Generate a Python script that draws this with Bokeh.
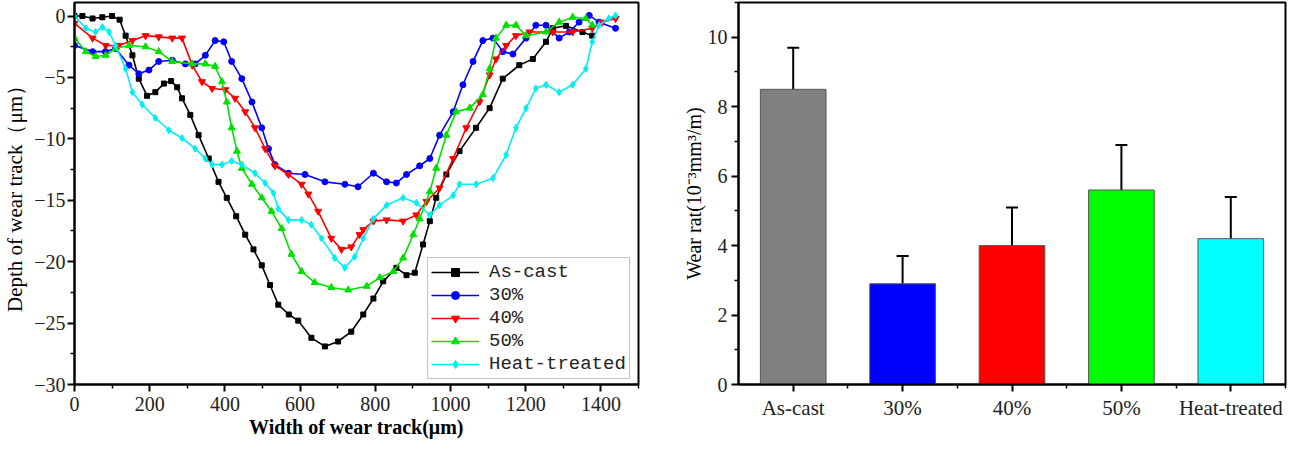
from bokeh.plotting import figure
from bokeh.layouts import row
from bokeh.models import (FixedTicker, CustomJSTickFormatter, Whisker, TeeHead,
                          ColumnDataSource, Label, Legend)
from bokeh.embed import file_html
from bokeh.resources import INLINE

# ---------------- data: (a) wear-track profiles ----------------
as_cast_x = [0, 21, 48, 74, 100, 120, 136, 154, 171, 193, 215, 238, 257, 273, 286, 308, 330, 357,
             383, 405, 430, 454, 476, 498, 520, 542, 570, 595, 630, 666, 701, 736, 768, 795, 821,
             856, 883, 905, 927, 945, 962, 989, 1024, 1068, 1104, 1139, 1183, 1219, 1254, 1272,
             1307, 1351, 1377]
as_cast_y = [0.0, 0.0, -0.2, -0.1, 0.0, -0.3, -1.6, -3.2, -5.1, -6.5, -6.2, -5.5, -5.3, -5.8, -6.7,
             -8.05, -9.7, -11.6, -13.5, -14.8, -16.3, -17.8, -19.0, -20.3, -21.9, -23.5, -24.3,
             -24.8, -26.2, -26.9, -26.5, -25.7, -24.3, -23.0, -21.6, -20.5, -21.1, -20.9, -18.6,
             -16.7, -14.8, -12.9, -11.0, -9.1, -7.5, -5.1, -4.0, -3.5, -2.1, -1.0, -0.8, -1.3, -1.6]

p30_x = [0, 48, 82, 109, 145, 171, 198, 224, 260, 295, 321, 348, 374, 397, 418, 445, 472, 498, 516,
         533, 569, 613, 666, 719, 754, 795, 830, 856, 883, 918, 945, 971, 1007, 1033, 1060, 1086,
         1113, 1139, 1166, 1201, 1227, 1254, 1289, 1316, 1342, 1369, 1395, 1439]
p30_y = [-2.4, -2.9, -2.9, -2.65, -4.0, -4.7, -4.4, -3.7, -3.6, -3.9, -3.9, -3.2, -2.0, -2.1, -3.7,
         -5.1, -7.0, -9.1, -10.8, -12.1, -12.8, -12.9, -13.5, -13.7, -13.9, -12.8, -13.5, -13.6,
         -12.9, -12.2, -11.6, -9.7, -7.8, -5.6, -3.7, -2.0, -1.8, -2.9, -3.1, -1.8, -0.75, -0.75,
         -1.8, -1.3, -0.5, 0.05, -0.5, -1.0]

p40_x = [0, 48, 83, 118, 154, 189, 224, 260, 286, 313, 339, 366, 401, 427, 454, 480, 507, 533, 569,
         604, 622, 648, 683, 710, 736, 758, 768, 795, 830, 874, 909, 936, 971, 1007, 1042, 1077,
         1104, 1121, 1148, 1174, 1210, 1272, 1325, 1377, 1404, 1439]
p40_y = [-0.6, -1.8, -2.4, -2.4, -2.0, -1.6, -1.7, -1.8, -1.8, -4.0, -5.35, -5.9, -6.0, -6.7, -7.8,
         -9.1, -10.8, -12.2, -12.9, -13.7, -14.5, -15.9, -18.1, -19.0, -18.8, -17.8, -17.4, -16.7,
         -16.6, -16.7, -16.2, -15.1, -14.0, -11.6, -9.1, -7.0, -4.8, -3.5, -2.4, -1.6, -1.3, -1.3,
         -1.3, -1.0, -0.5, -0.2]

p50_x = [0, 30, 56, 83, 109, 145, 189, 224, 260, 313, 348, 374, 392, 405, 418, 432, 445, 472, 498,
         524, 551, 577, 604, 639, 683, 728, 777, 812, 848, 874, 901, 918, 945, 962, 989, 1015, 1051,
         1086, 1104, 1121, 1148, 1174, 1201, 1254, 1289, 1325, 1360, 1377]
p50_y = [-1.8, -2.9, -3.3, -3.2, -2.65, -2.4, -2.5, -2.9, -3.7, -3.9, -3.9, -4.1, -5.35, -7.0, -9.1,
         -11.0, -12.4, -13.7, -14.8, -15.9, -17.3, -19.4, -20.8, -21.7, -22.1, -22.3, -22.0, -21.3,
         -20.8, -19.7, -17.8, -16.5, -14.3, -12.4, -9.7, -7.8, -7.5, -6.4, -4.3, -1.8, -0.75, -0.75,
         -1.6, -1.3, -0.5, -0.1, -0.2, -0.75]

heat_x = [0, 30, 56, 74, 92, 109, 136, 154, 180, 215, 251, 286, 321, 348, 366, 392, 418, 445, 480,
          507, 529, 542, 569, 604, 630, 657, 692, 719, 745, 768, 795, 830, 874, 909, 945, 971, 1007,
          1024, 1068, 1113, 1148, 1174, 1201, 1227, 1254, 1289, 1325, 1360, 1377, 1395, 1421, 1439]
heat_y = [0.0, -1.0, -1.3, -0.9, -1.3, -2.4, -4.3, -6.2, -7.2, -8.3, -9.3, -9.95, -10.8, -11.6,
          -12.1, -12.1, -11.8, -12.1, -12.8, -13.6, -14.4, -15.7, -16.6, -16.6, -17.0, -18.1, -19.7,
          -20.5, -19.6, -18.1, -16.5, -15.4, -14.8, -15.2, -16.2, -15.4, -14.6, -13.7, -13.7, -13.2,
          -11.3, -9.1, -7.5, -5.9, -5.6, -6.2, -5.6, -4.3, -2.1, -0.75, -0.2, 0.05]

series_names = ["As-cast", "30%", "40%", "50%", "Heat-treated"]
x_ticks_a = [0, 200, 400, 600, 800, 1000, 1200, 1400]
y_ticks_a = [-30, -25, -20, -15, -10, -5, 0]

# ---------------- data: (b) wear rate ----------------
categories = ["As-cast", "30%", "40%", "50%", "Heat-treated"]
wear_rate = [8.5, 2.9, 4.0, 5.6, 4.2]
wear_err = [1.2, 0.8, 1.1, 1.3, 1.2]
y_ticks_b = [0, 2, 4, 6, 8, 10]

# ---------------- styles ----------------
line_colors = ["#000000", "#0000ff", "#ff0000", "#00e000", "#00f0f0"]
markers = ["square", "circle", "inverted_triangle", "triangle", "diamond"]
msizes = [5, 6, 7, 7, 7]
bar_colors = ["#808080", "#0000ff", "#ff0000", "#00ff00", "#00ffff"]
SERIF = "Liberation Serif"


def style_axes(p):
    p.xgrid.visible = False
    p.ygrid.visible = False
    p.outline_line_color = "#000000"
    p.outline_line_width = 2
    p.axis.axis_line_color = "#000000"
    p.axis.axis_line_width = 2
    p.axis.major_tick_line_color = "#000000"
    p.axis.minor_tick_line_color = "#000000"
    p.axis.major_tick_line_width = 2
    p.axis.minor_tick_line_width = 1.5
    p.axis.major_tick_in = 0
    p.axis.minor_tick_in = 0
    p.axis.major_tick_out = 7
    p.axis.minor_tick_out = 4
    p.axis.major_label_text_font = SERIF
    p.axis.major_label_text_font_size = "20px"
    p.axis.major_label_text_color = "#222222"
    p.axis.axis_label_text_font = SERIF
    p.axis.axis_label_text_font_size = "20px"
    p.axis.axis_label_text_font_style = "normal"
    p.axis.axis_label_text_color = "#000000"


# ---------------- panel (a) ----------------
p1 = figure(width=652, height=442, x_range=(0, 1500), y_range=(-30, 1.1),
            output_backend="svg", toolbar_location=None,
            min_border_left=72, min_border_right=14, min_border_top=2, min_border_bottom=58)
style_axes(p1)
p1.xaxis.ticker = FixedTicker(ticks=x_ticks_a, minor_ticks=[v + 100 for v in x_ticks_a])
p1.yaxis.ticker = FixedTicker(ticks=y_ticks_a, minor_ticks=[v + 2.5 for v in y_ticks_a[:-1]])
p1.yaxis.formatter = CustomJSTickFormatter(
    code="return tick < 0 ? '\u2212' + Math.abs(tick) : String(tick);")
p1.xaxis.axis_label = "Width of wear track(\u03bcm)"
p1.xaxis.axis_label_text_font_style = "bold"
p1.yaxis.axis_label = "Depth of wear track\uff08\u03bcm\uff09"
p1.yaxis.axis_label_text_font_size = "21px"
p1.xaxis.major_label_standoff = 5
p1.yaxis.major_label_standoff = 2
p1.xaxis.axis_label_standoff = 2
p1.yaxis.axis_label_standoff = 4

xs = [as_cast_x, p30_x, p40_x, p50_x, heat_x]
ys = [as_cast_y, p30_y, p40_y, p50_y, heat_y]
items = []
for name, x, y, c, m, s in zip(series_names, xs, ys, line_colors, markers, msizes):
    r1 = p1.line(x, y, line_color=c, line_width=1.6)
    r2 = p1.scatter(x, y, marker=m, size=s, fill_color=c, line_color=c)
    items.append((name, [r1, r2]))

legend = Legend(items=items, location=(353, 5))
legend.label_text_font = "Liberation Mono"
legend.label_text_font_size = "19px"
legend.label_text_color = "#222222"
legend.glyph_width = 48
legend.glyph_height = 20
legend.label_height = 20
legend.label_standoff = 10
legend.spacing = 1
legend.padding = 3
legend.margin = 0
legend.border_line_color = "#888888"
legend.border_line_width = 1.5
legend.background_fill_alpha = 1
p1.add_layout(legend)

p1.add_layout(Label(x=-68, y=-42, x_units="screen", y_units="screen", text="(a)",
                    text_font=SERIF, text_font_style="bold", text_font_size="24px",
                    text_baseline="middle", text_align="left"))

# ---------------- panel (b) ----------------
idx = list(range(len(categories)))
p2 = figure(width=641, height=442, x_range=(-0.5, 4.5), y_range=(0, 11),
            output_backend="svg", toolbar_location=None,
            min_border_left=86, min_border_right=8, min_border_top=1, min_border_bottom=36)
style_axes(p2)
p2.xaxis.ticker = FixedTicker(ticks=idx, minor_ticks=[i + 0.5 for i in idx])
p2.xaxis.major_label_overrides = {i: c for i, c in zip(idx, categories)}
p2.yaxis.ticker = FixedTicker(ticks=y_ticks_b, minor_ticks=[v + 1 for v in y_ticks_b])
p2.yaxis.axis_label = "Wear rat(10\u207b\u00b3mm\u00b3/m)"
p2.xaxis.major_label_standoff = 4
p2.yaxis.major_label_standoff = 4
p2.yaxis.axis_label_standoff = 0
p2.xaxis.major_label_text_font_size = "21px"

src = ColumnDataSource(dict(
    x=idx, top=wear_rate, color=bar_colors,
    upper=[v + e for v, e in zip(wear_rate, wear_err)],
    lower=[v - e for v, e in zip(wear_rate, wear_err)]))
p2.vbar(x="x", top="top", width=0.6, fill_color="color", line_color="#555555",
        line_width=1, source=src)
p2.add_layout(Whisker(base="x", upper="upper", lower="lower", source=src,
                      line_color="black", line_width=2,
                      upper_head=TeeHead(size=12, line_width=2, line_color="black"),
                      lower_head=TeeHead(size=12, line_width=2, line_color="black")))
p2.add_layout(Label(x=-66, y=-19, x_units="screen", y_units="screen", text="(b)",
                    text_font=SERIF, text_font_style="bold", text_font_size="24px",
                    text_baseline="middle", text_align="left"))

layout = row(p1, p2)
open("out.html", "w").write(file_html(layout, INLINE))
